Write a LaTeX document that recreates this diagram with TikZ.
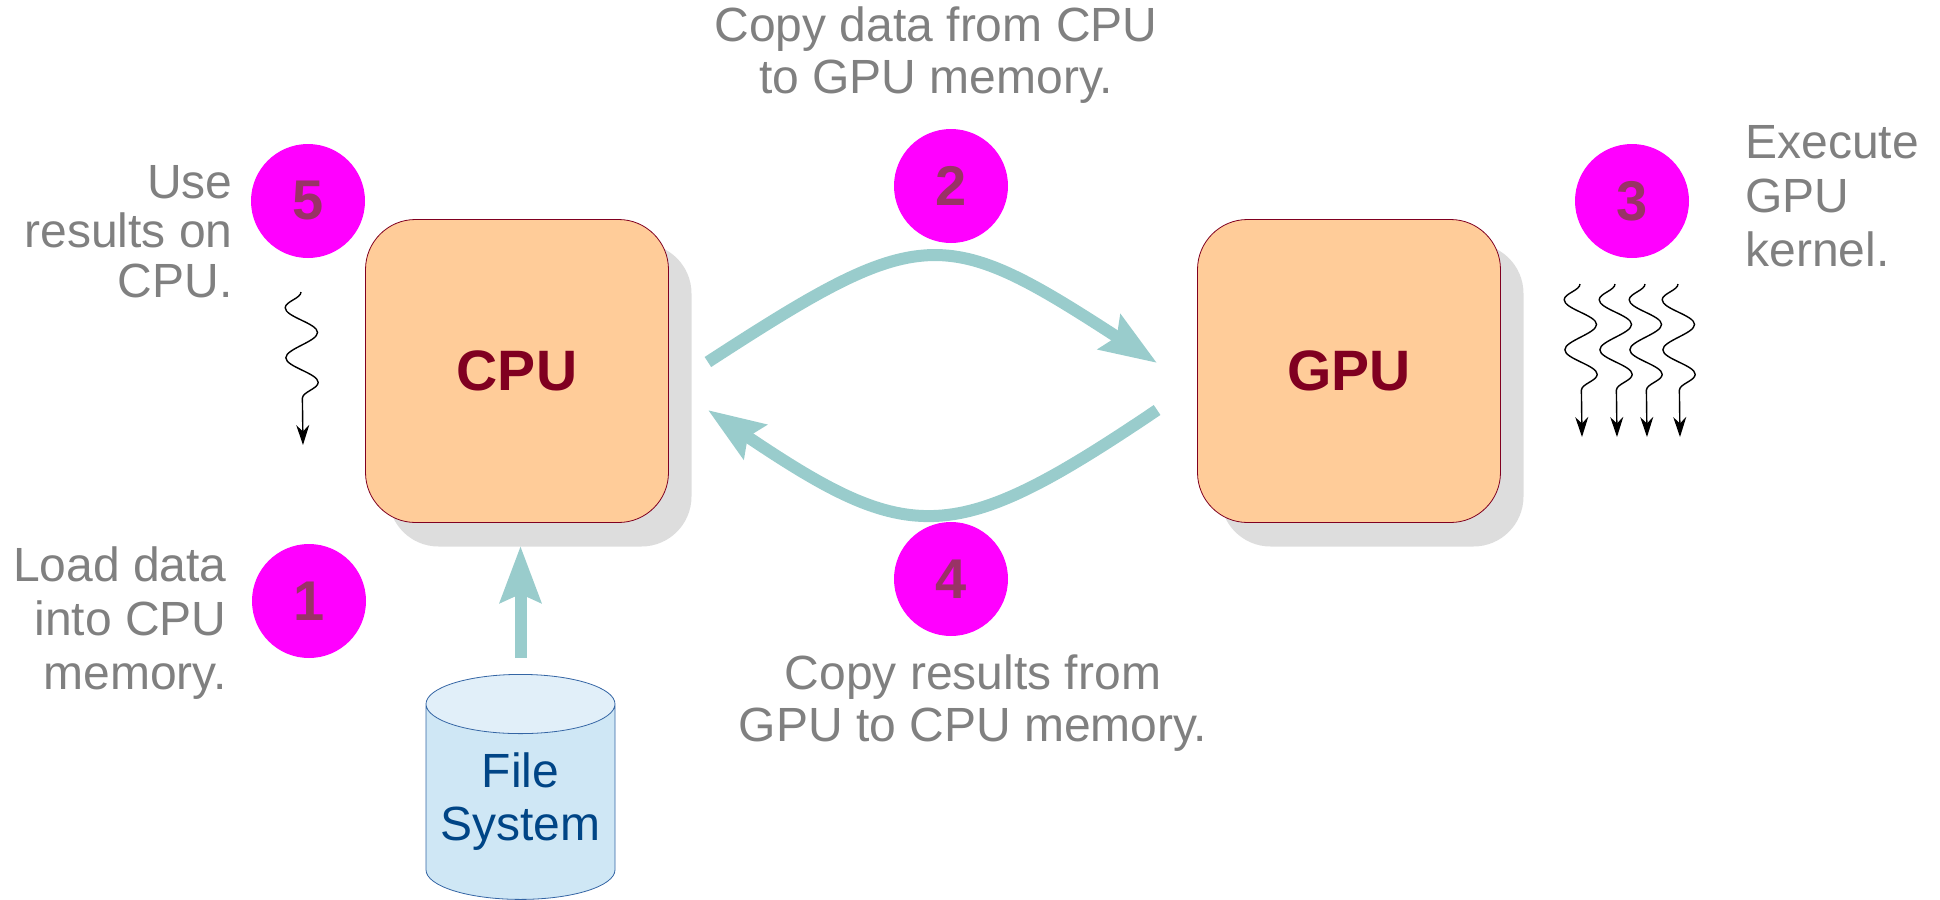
\documentclass[tikz,border=0pt]{standalone}
\usepackage{fontspec}
\setmainfont{Liberation Sans}
\usetikzlibrary{arrows.meta,shapes.geometric,shadows,decorations.pathmorphing}
\definecolor{peach}{HTML}{FFCC99}
\definecolor{chipred}{HTML}{800020}
\definecolor{dotpink}{HTML}{FF00FF}
\definecolor{dotnum}{HTML}{993366}
\definecolor{notegray}{HTML}{808080}
\definecolor{flowteal}{HTML}{99CCCC}
\definecolor{diskbody}{HTML}{CFE7F5}
\definecolor{disktop}{HTML}{E1EFF9}
\definecolor{diskline}{HTML}{3465A4}
\definecolor{disktext}{HTML}{004586}
\definecolor{shade}{HTML}{DDDDDD}
\tikzset{
  chip/.style={rectangle, rounded corners=25pt, draw=chipred, fill=peach,
    minimum width=151.5pt, minimum height=151.5pt, text=chipred,
    font=\fontsize{28.5}{34}\selectfont\bfseries,
    drop shadow={shadow xshift=11.5pt, shadow yshift=-12pt, fill=shade, opacity=1}},
  stepdot/.style={circle, fill=dotpink, minimum size=57pt, inner sep=0pt,
    text=dotnum, font=\fontsize{28}{34}\selectfont\bfseries},
  note/.style={text=notegray, inner sep=0pt, font=\fontsize{24}{#1}\selectfont},
  note/.default=26.5pt,
  flow/.style={draw=flowteal, line width=6pt, -{Stealth[length=28pt, width=20pt, inset=4pt]}},
  squiggle/.style={line width=0.7pt, -{Stealth[length=10pt, width=6.5pt]}, decorate,
    decoration={snake, amplitude=8pt, segment length=25pt, post length=19pt, mirror}}
}
\begin{document}
\begin{tikzpicture}[x=0.5pt, y=-0.5pt]
  \useasboundingbox (0,0) rectangle (1940,900);
  \node[chip] (cpu) at (517,371) {CPU};
  \node[chip] (gpu) at (1349,371) {GPU};
  \node[cylinder, shape border rotate=90, aspect=0.37, draw=diskline,
    cylinder uses custom fill, cylinder body fill=diskbody, cylinder end fill=disktop,
    minimum width=94.5pt, minimum height=112.5pt, inner sep=0pt, anchor=north,
    text=disktext, font=\fontsize{24}{26.5}\selectfont, align=center] (fs) at (520.5,674) {File\\System};
  \node[stepdot] (s1) at (309,601) {1};
  \node[stepdot] (s2) at (951,186) {2};
  \node[stepdot] (s3) at (1632,201) {3};
  \node[stepdot] (s4) at (951,579) {4};
  \node[stepdot] (s5) at (308,201) {5};
  \node[note=27pt, align=right, anchor=base east] (t1) at (227,689) {Load data\\into CPU\\memory.};
  \node[note=26pt, align=center, anchor=base] (t2) at (936,93) {Copy data from CPU\\to GPU memory.};
  \node[note=27pt, align=left, anchor=base west] (t3) at (1745,266) {Execute\\GPU\\kernel.};
  \node[note=26pt, align=center, anchor=base] (t4) at (973,741) {Copy results from\\GPU to CPU memory.};
  \node[note=24.75pt, align=right, anchor=base east] (t5) at (233,297) {Use\\results on\\CPU.};
  \begin{scope}[flow]
    \draw[shorten <=8pt, shorten >=11.5pt] (fs.north) -- (fs.north |- cpu.south);
    \draw ([shift={(19.5pt,4.5pt)}]cpu.east) .. controls +(214,-139) and +(-214,-139) .. ([shift={(-20pt,4pt)}]gpu.west);
    \draw ([shift={(-20pt,-19.5pt)}]gpu.west) .. controls +(-203,137) and +(203,137) .. ([shift={(19.5pt,-19.5pt)}]cpu.east);
  \end{scope}
  \draw[squiggle] (301,292) -- (303,445);
  \foreach \x in {1580,1615,1645,1678}
    \draw[squiggle] (\x,284) -- (\x+2,437);
\end{tikzpicture}
\end{document}
